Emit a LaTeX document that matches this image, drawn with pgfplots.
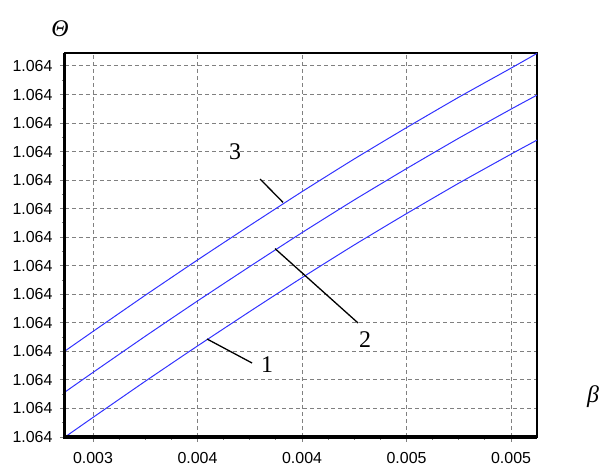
\documentclass[border=0pt]{standalone}
\usepackage{fontspec}
\setmainfont{Liberation Serif}
\newfontfamily\arial{Liberation Sans}
\usepackage{pgfplots}
\usepackage{pgfplotstable}
\pgfplotsset{compat=1.18}
\definecolor{curveblue}{RGB}{50,50,255}
\definecolor{gridgray}{RGB}{128,128,128}
\pgfplotstableread{
x        y1     y2     y3
0.002866 0.000  1.577  3.013
0.003000 0.686  2.263  3.699
0.003249 1.948  3.525  4.961
0.003500 3.190  4.767  6.203
0.003751 4.402  5.979  7.415
0.004000 5.584  7.161  8.597
0.004249 6.726  8.303  9.739
0.004500 7.828  9.405  10.841
0.004749 8.890  10.467 11.903
0.005000 9.912  11.489 12.925
0.005124 10.403 11.980 13.440
}\datatable
\begin{document}
\begin{tikzpicture}
\useasboundingbox (-65bp,-31bp) rectangle (536bp,437bp);
\begin{axis}[
  at={(0,0)}, anchor=south west,
  scale only axis, width=472bp, height=384bp,
  xmin=0.002866, xmax=0.005124, ymin=0, ymax=13.455,
  xtick={0.003,0.0035,0.004,0.0045,0.005},
  xticklabels={0.003,0.004,0.004,0.005,0.005},
  ytick={0,1,2,3,4,5,6,7,8,9,10,11,12,13},
  yticklabels={1.064,1.064,1.064,1.064,1.064,1.064,1.064,1.064,1.064,1.064,1.064,1.064,1.064,1.064},
  minor x tick num=3, minor y tick num=1,
  xtick pos=bottom, ytick pos=left,
  tick align=outside, major tick length=5bp, minor tick length=3bp,
  tick style={gridgray, line width=1bp},
  grid=major,
  major grid style={gridgray, dash pattern=on 4bp off 3bp, line width=1bp},
  axis line style={line width=1.3bp},
  ticklabel style={font=\arial\fontsize{16}{19}\selectfont, text=black},
  xticklabel style={yshift=-7bp},
  yticklabel style={xshift=-4bp},
  scaled x ticks=false, scaled y ticks=false,
  clip=false,
]
\addplot[curveblue, line width=1bp, smooth, tension=0.3] table[x=x, y=y1] {\datatable};
\addplot[curveblue, line width=1bp, smooth, tension=0.3] table[x=x, y=y2] {\datatable};
\addplot[curveblue, line width=1bp, smooth, tension=0.3] table[x=x, y=y3] {\datatable};
\draw[line width=3bp] (rel axis cs:0,1) -- (rel axis cs:0,0) -- (rel axis cs:1,0);
% leader lines
\draw[line width=1.3bp] (axis cs:0.0035455,3.434) -- (axis cs:0.0037608,2.593);
\draw[line width=1.3bp] (axis cs:0.0038709,6.60) -- (axis cs:0.004268,3.994);
\draw[line width=1.3bp] (axis cs:0.0037991,9.040) -- (axis cs:0.0039091,8.22);
\node[font=\fontsize{24}{28}\selectfont] at (axis cs:0.0038326,2.523) {1};
\node[font=\fontsize{24}{28}\selectfont] at (axis cs:0.0043015,3.399) {2};
\node[font=\fontsize{24}{28}\selectfont] at (axis cs:0.0036795,9.986) {3};
\node[font=\itshape\fontsize{24}{28}\selectfont] at (axis cs:0.0028421,14.30) {Θ};
\node[font=\itshape\fontsize{24}{28}\selectfont] at (axis cs:0.0053925,1.40) {β};
\end{axis}
\end{tikzpicture}
\end{document}
